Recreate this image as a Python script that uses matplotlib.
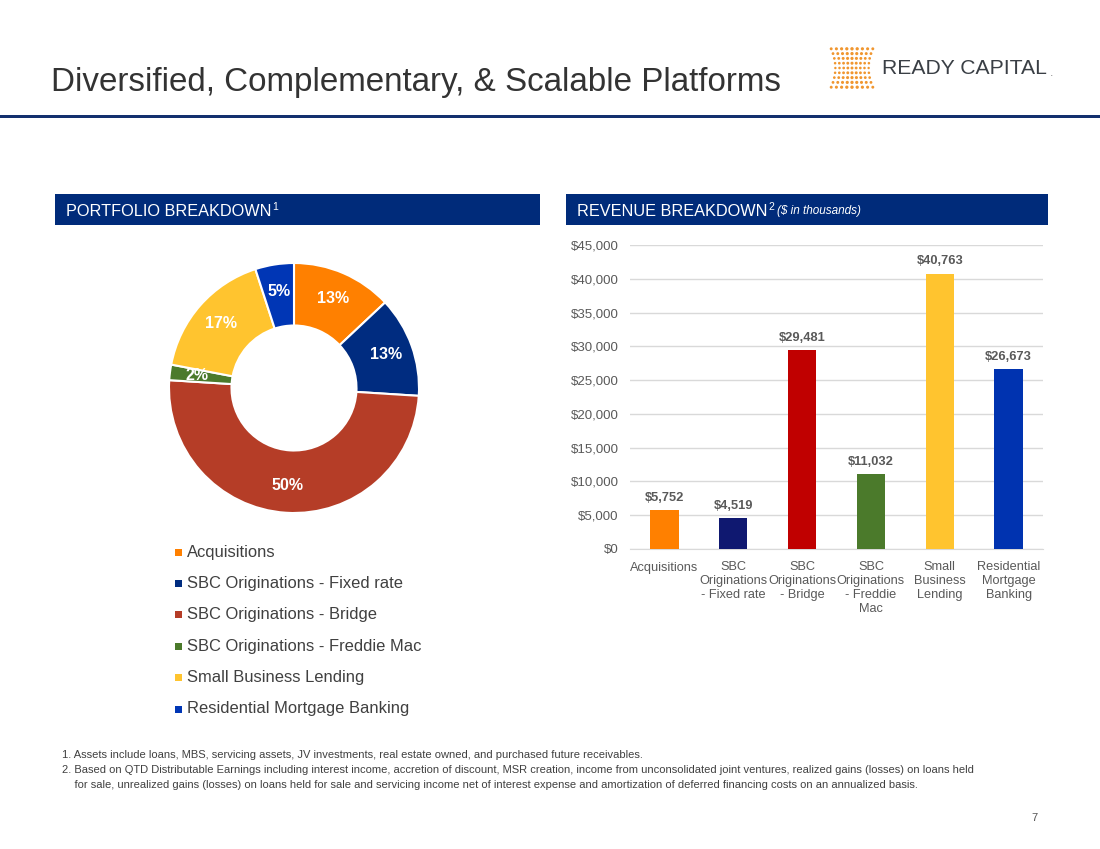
import numpy as np
import matplotlib.pyplot as plt
from matplotlib.patches import Rectangle

plt.rcParams['font.family'] = ['Liberation Sans', 'DejaVu Sans']

# portfolio breakdown (donut), percent of total
segments = ['Acquisitions', 'SBC Originations - Fixed rate', 'SBC Originations - Bridge',
            'SBC Originations - Freddie Mac', 'Small Business Lending', 'Residential Mortgage Banking']
portfolio_pct = [13, 13, 50, 2, 17, 5]
pie_colors = ['#FF8000', '#002C80', '#B53D27', '#4B7A2B', '#FFC42F', '#0036B5']

# revenue breakdown (bars), $ thousands
bar_labels = ['Acquisitions', 'SBC\nOriginations\n- Fixed rate', 'SBC\nOriginations\n- Bridge',
              'SBC\nOriginations\n- Freddie\nMac', 'Small\nBusiness\nLending', 'Residential\nMortgage\nBanking']
revenue = [5752, 4519, 29481, 11032, 40763, 26673]
bar_colors = ['#FF8000', '#0F1870', '#C00000', '#4B7A2B', '#FFC42F', '#0033B0']
y_ticks = np.arange(0, 45001, 5000)

footnotes = [
    '1. Assets include loans, MBS, servicing assets, JV investments, real estate owned, and purchased future receivables.',
    '2. Based on QTD Distributable Earnings including interest income, accretion of discount, MSR creation, income from unconsolidated joint ventures, realized gains (losses) on loans held',
    '    for sale, unrealized gains (losses) on loans held for sale and servicing income net of interest expense and amortization of deferred financing costs on an annualized basis.',
]

W, H = 1100, 849
navy = '#002B7A'
grey_txt = '#595959'

fig = plt.figure(figsize=(W / 100, H / 100), dpi=100)
fig.set_facecolor('white')


def fx(px):
    return px / W


def fy(py):
    return 1 - py / H


# title and rule
fig.text(fx(51), fy(82), 'Diversified, Complementary, & Scalable Platforms',
         fontsize=23.9, color='#333333', va='center', ha='left')
fig.add_artist(Rectangle((0, fy(118)), 1, 3 / H, transform=fig.transFigure,
                         color='#13306E', lw=0))

# logo
lax = fig.add_axes([fx(826), fy(92), fx(52), 48 / H])
lax.axis('off')
gx, gy = np.meshgrid(np.arange(-4, 5), np.arange(-4, 5))
spread = 0.8 + 0.2 * (gy / 4.0) ** 2
lx = gx * spread
sz = 4.5 - 1.5 * (np.abs(gx) / 4.0) + 1.5 * (np.abs(gy) / 4.0)
lax.scatter(lx.ravel(), gy.ravel(), s=sz.ravel(), color='#F0962F', lw=0)
lax.set_xlim(-5, 5)
lax.set_ylim(-5, 5)
fig.text(fx(882), fy(69), 'READY CAPITAL', fontsize=15.2, color='#3A3F45',
         va='center', ha='left')
fig.text(fx(1050), fy(73), '.', fontsize=9, color='#888888', va='center', ha='left')

# header bars
renderer = fig.canvas.get_renderer()


def header(x0, x1, main, sup, extra=None):
    fig.add_artist(Rectangle((fx(x0), fy(225)), fx(x1 - x0), 31 / H,
                             transform=fig.transFigure, color=navy, lw=0))
    t = fig.text(fx(x0 + 11), fy(211), main, fontsize=11.7, color='white',
                 va='center', ha='left')
    bb = t.get_window_extent(renderer)
    s = fig.text(bb.x1 / W + 0.0005, fy(207), sup, fontsize=7.5, color='white',
                 va='center', ha='left')
    if extra:
        bb2 = s.get_window_extent(renderer)
        fig.text(bb2.x1 / W + 0.003, fy(211), extra, fontsize=8.5, color='white',
                 style='italic', va='center', ha='left')


header(55, 540, 'PORTFOLIO BREAKDOWN', '1')
header(566, 1048, 'REVENUE BREAKDOWN', '2', '(\\$ in thousands)')

# donut
R = 125
pax = fig.add_axes([fx(294 - R), fy(388 + R), fx(2 * R), 2 * R / H])
wedges, _, autotexts = pax.pie(portfolio_pct, colors=pie_colors, startangle=90,
                               counterclock=False, radius=1.0,
                               autopct=lambda p: f'{p:.0f}%', pctdistance=0.78,
                               wedgeprops=dict(width=0.5, edgecolor='white', linewidth=1.5))
for t in autotexts:
    t.set_color('white')
    t.set_fontweight('bold')
    t.set_fontsize(11.5)
pax.set_xlim(-1, 1)
pax.set_ylim(-1, 1)

# legend for the donut
for i, (lab, col) in enumerate(zip(segments, pie_colors)):
    yy = 552 + i * 31.4
    fig.add_artist(Rectangle((fx(175), fy(yy + 3.5)), fx(7), 7 / H,
                             transform=fig.transFigure, color=col, lw=0))
    fig.text(fx(187), fy(yy), lab, fontsize=11.9, color='#404040',
             va='center', ha='left')

# bar chart
bax = fig.add_axes([fx(630), fy(549), fx(413), (549 - 245) / H])
xs = np.arange(len(revenue))
bax.bar(xs, revenue, width=0.41, color=bar_colors, zorder=3)
bax.set_xlim(-0.5, len(revenue) - 0.5)
bax.set_ylim(0, 45000)
bax.set_yticks(y_ticks)
bax.set_yticklabels([f'\\${v:,.0f}' for v in y_ticks], fontsize=9.5, color=grey_txt)
bax.set_xticks(xs)
bax.set_xticklabels(bar_labels, fontsize=9.2, color=grey_txt, linespacing=1.2)
bax.tick_params(length=0, pad=8)
bax.tick_params(axis='x', pad=9)
bax.grid(axis='y', color='#D9D9D9', lw=1, zorder=0)
for sp in ['top', 'right', 'left']:
    bax.spines[sp].set_visible(False)
bax.spines['bottom'].set_color('#D9D9D9')
for x, v in zip(xs, revenue):
    bax.annotate(f'\\${v:,.0f}', (x, v), xytext=(0, 4.5), textcoords='offset points',
                 ha='center', va='bottom', fontsize=9.3, fontweight='bold', color=grey_txt)

# footnotes
for i, line in enumerate(footnotes):
    fig.text(fx(62), fy(755 + i * 15.2), line, fontsize=8.0, color='#404040',
             va='center', ha='left')
fig.text(fx(1038), fy(818), '7', fontsize=8, color='#555555', va='center', ha='right')

fig.savefig('out.png', dpi=100)
